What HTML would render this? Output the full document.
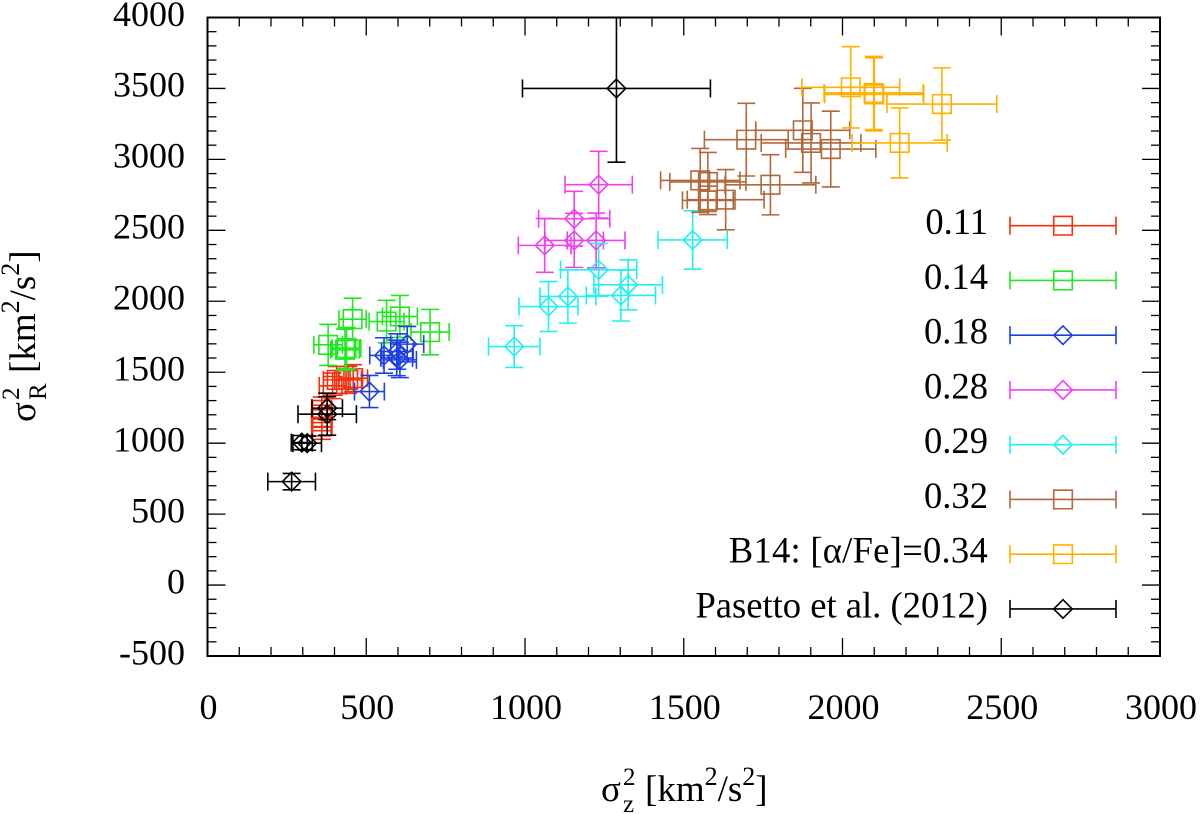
<!DOCTYPE html>
<html lang="en">
<head>
<meta charset="utf-8">
<title>Velocity dispersion chart</title>
<style>
html,body{margin:0;padding:0;background:#fff;}
svg{display:block;}
text{font-family:"Liberation Serif",serif;fill:#000;}
</style>
</head>
<body>
<svg id="chart" xmlns="http://www.w3.org/2000/svg" width="1200" height="814" viewBox="0 0 1200 814">
  <defs><clipPath id="plot-clip"><rect x="207.5" y="17.5" width="952.5" height="638.5"></rect></clipPath></defs>
  <rect x="0" y="0" width="1200" height="814" fill="#fff"></rect>
  <g id="series-layer" clip-path="url(#plot-clip)"></g>
  <g id="axis-layer"></g>
  <g id="legend-layer"></g>
  <g>
    <text x="601" y="801" font-size="37">σ</text>
    <text x="623" y="785" font-size="25">2</text>
    <text x="623" y="812" font-size="25">z</text>
    <text x="645" y="801" font-size="37">[km<tspan dy="-16" font-size="26">2</tspan><tspan dy="16">/s</tspan><tspan dy="-16" font-size="26">2</tspan><tspan dy="16">]</tspan></text>
  </g>
  <g transform="translate(35,422) rotate(-90)">
    <text x="0" y="0" font-size="37">σ</text>
    <text x="22" y="-16" font-size="25">2</text>
    <text x="22" y="11" font-size="25">R</text>
    <text x="49" y="0" font-size="37">[km<tspan dy="-16" font-size="26">2</tspan><tspan dy="16">/s</tspan><tspan dy="-16" font-size="26">2</tspan><tspan dy="16">]</tspan></text>
  </g>
</svg>
<script>
const xTickLabels = [0, 500, 1000, 1500, 2000, 2500, 3000];
const yTickLabels = [-500, 0, 500, 1000, 1500, 2000, 2500, 3000, 3500, 4000];

const x011 = [394, 407, 443, 459, 360, 360, 360];
const y011 = [1404, 1446, 1446, 1458, 1235, 1178, 1117];
const ex011 = [42, 42, 42, 45, 32, 32, 32];
const ey011 = [90, 95, 95, 95, 90, 90, 90];

const x014 = [457, 564, 606, 701, 380, 438, 433];
const y014 = [1874, 1857, 1893, 1783, 1693, 1670, 1658];
const ex014 = [43, 55, 55, 60, 45, 45, 45];
const ey014 = [148, 150, 148, 160, 145, 145, 145];

const x018 = [510, 556, 598, 606, 629, 596];
const y018 = [1364, 1618, 1646, 1587, 1698, 1601];
const ex018 = [47, 45, 50, 52, 52, 50];
const ey018 = [113, 125, 125, 125, 125, 125];

const x028 = [1232, 1155, 1155, 1224, 1062];
const y028 = [2822, 2582, 2429, 2429, 2394];
const ex028 = [106, 112, 92, 91, 83];
const ey028 = [235, 193, 190, 193, 190];

const x029 = [966, 1074, 1135, 1232, 1302, 1325, 1528];
const y029 = [1681, 1963, 2034, 2222, 2041, 2116, 2432];
const ex029 = [81, 93, 88, 120, 109, 108, 109];
const ey029 = [147, 176, 188, 186, 180, 176, 206];

const x032 = [1697, 1875, 1901, 1963, 1773, 1552, 1576, 1632, 1576];
const y032 = [3139, 3205, 3116, 3073, 2821, 2852, 2841, 2716, 2711];
const ex032 = [132, 148, 157, 142, 143, 125, 120, 121, 80];
const ey032 = [256, 296, 282, 267, 212, 225, 208, 212, 100];

const x034 = [2026, 2098, 2100, 2313, 2180];
const y034 = [3508, 3468, 3458, 3390, 3116];
const ex034 = [154, 156, 156, 173, 150];
const ey034 = [286, 258, 258, 255, 247];

const xPasetto = [265, 297, 314, 377, 377, 1288];
const yPasetto = [729, 1004, 1000, 1204, 1247, 3500];
const exPasetto = [75, 33, 45, 92, 48, 296];
const eyPasetto = [58, 50, 50, 148, 81, 520];

const seriesLabels = ["0.11", "0.14", "0.18", "0.28", "0.29", "0.32", "B14: [α/Fe]=0.34", "Pasetto et al. (2012)"];
const seriesColors = ["#f0300f", "#1fe81f", "#1f40e0", "#f040f0", "#20f0f0", "#b0683c", "#ffb000", "#000000"];
const seriesMarkers = ["square", "square", "diamond", "diamond", "diamond", "square", "square", "diamond"];
const seriesX = [x011, x014, x018, x028, x029, x032, x034, xPasetto];
const seriesY = [y011, y014, y018, y028, y029, y032, y034, yPasetto];
const seriesEx = [ex011, ex014, ex018, ex028, ex029, ex032, ex034, exPasetto];
const seriesEy = [ey011, ey014, ey018, ey028, ey029, ey032, ey034, eyPasetto];

const SVGNS = "http://www.w3.org/2000/svg";
const plot = {left: 207.5, right: 1160, top: 17.5, bottom: 656};
const xMin = 0, xMax = 3000, yMin = -500, yMax = 4000;
const capHalf = 9, markerHalf = 9.3, barWidth = 1.6;

function sx(v) { return plot.left + (v - xMin) / (xMax - xMin) * (plot.right - plot.left); }
function sy(v) { return plot.bottom - (v - yMin) / (yMax - yMin) * (plot.bottom - plot.top); }

function addLine(parent, x1, y1, x2, y2, color, width, name) {
  const el = document.createElementNS(SVGNS, "line");
  el.setAttribute("x1", x1);
  el.setAttribute("y1", y1);
  el.setAttribute("x2", x2);
  el.setAttribute("y2", y2);
  el.setAttribute("stroke", color);
  el.setAttribute("stroke-width", width);
  
  
  parent.appendChild(el);
  return el;
}

function addText(parent, x, y, str, anchor, size, name) {
  const el = document.createElementNS(SVGNS, "text");
  el.setAttribute("x", x);
  el.setAttribute("y", y);
  el.setAttribute("font-size", size);
  el.setAttribute("text-anchor", anchor);
  el.textContent = str;
  
  
  parent.appendChild(el);
  return el;
}

function addMarker(parent, cx, cy, kind, color) {
  const el = document.createElementNS(SVGNS, "path");
  const h = markerHalf;
  if (kind === "square") {
    el.setAttribute("d", "M" + (cx - h) + " " + (cy - h) + "H" + (cx + h) + "V" + (cy + h) + "H" + (cx - h) + "Z");
  } else {
    el.setAttribute("d", "M" + cx + " " + (cy - h) + "L" + (cx + h) + " " + cy + "L" + cx + " " + (cy + h) + "L" + (cx - h) + " " + cy + "Z");
  }
  el.setAttribute("fill", "none");
  el.setAttribute("stroke", color);
  el.setAttribute("stroke-width", barWidth);
  
  
  parent.appendChild(el);
}

function drawSeries(i) {
  const layer = document.getElementById("series-layer");
  const group = document.createElementNS(SVGNS, "g");
  
  
  layer.appendChild(group);
  const c = seriesColors[i];
  for (let k = 0; k < seriesX[i].length; k++) {
    const vx = seriesX[i][k], vy = seriesY[i][k], ex = seriesEx[i][k], ey = seriesEy[i][k];
    const cx = sx(vx), cy = sy(vy);
    const x0 = sx(vx - ex), x1 = sx(vx + ex), y0 = sy(vy - ey), y1 = sy(vy + ey);
    addLine(group, x0, cy, x1, cy, c, barWidth, 'x-error-bar');
    addLine(group, x0, cy - capHalf, x0, cy + capHalf, c, barWidth, 'x-error-cap');
    addLine(group, x1, cy - capHalf, x1, cy + capHalf, c, barWidth, 'x-error-cap');
    addLine(group, cx, y0, cx, y1, c, barWidth, 'y-error-bar');
    addLine(group, cx - capHalf, y0, cx + capHalf, y0, c, barWidth, 'y-error-cap');
    addLine(group, cx - capHalf, y1, cx + capHalf, y1, c, barWidth, 'y-error-cap');
    addMarker(group, cx, cy, seriesMarkers[i], c);
  }
}

function drawAxes() {
  const g = document.getElementById("axis-layer");
  const tickW = 1.3, major = 18, minor = 9, step = 100;
  for (let v = xMin; v <= xMax; v += step) {
    const len = v % 500 === 0 ? major : minor;
    const x = sx(v);
    addLine(g, x, plot.bottom, x, plot.bottom - len, "#000", tickW, 'x-tick');
    addLine(g, x, plot.top, x, plot.top + len, "#000", tickW, 'x-tick-top');
  }
  for (let v = yMin; v <= yMax; v += step) {
    const len = v % 500 === 0 ? major : minor;
    const y = sy(v);
    addLine(g, plot.left, y, plot.left + len, y, "#000", tickW, 'y-tick');
    addLine(g, plot.right, y, plot.right - len, y, "#000", tickW, 'y-tick-right');
  }
  const frame = document.createElementNS(SVGNS, "rect");
  frame.setAttribute("x", plot.left);
  frame.setAttribute("y", plot.top);
  frame.setAttribute("width", plot.right - plot.left);
  frame.setAttribute("height", plot.bottom - plot.top);
  frame.setAttribute("fill", "none");
  frame.setAttribute("stroke", "#000");
  frame.setAttribute("stroke-width", "2");
  
  
  g.appendChild(frame);
  xTickLabels.forEach(function (v) {
    addText(g, sx(v) + 1, 719, String(v), "middle", "36", 'x-tick-label');
  });
  yTickLabels.forEach(function (v) {
    addText(g, 185, sy(v) + 8.3, String(v), "end", "36", 'y-tick-label');
  });
}

function drawLegend() {
  const g = document.getElementById("legend-layer");
  const x0 = 1010, x1 = 1116, mid = 1063;
  seriesLabels.forEach(function (label, i) {
    const y = 225.7 + i * 54.75;
    const c = seriesColors[i];
    const entry = document.createElementNS(SVGNS, "g");
    
    
    g.appendChild(entry);
    const t = addText(entry, 988, y + 8.3, label, "end", "36.6", 'legend-label');
    if (label.indexOf("α") >= 0) {
      t.setAttribute("letter-spacing", "0.25");
    }
    addLine(entry, x0, y, x1, y, c, barWidth, 'legend-line');
    addLine(entry, x0, y - capHalf, x0, y + capHalf, c, barWidth, 'legend-cap');
    addLine(entry, x1, y - capHalf, x1, y + capHalf, c, barWidth, 'legend-cap');
    addMarker(entry, mid, y, seriesMarkers[i], c);
  });
}

for (let i = 0; i < seriesLabels.length; i++) {
  drawSeries(i);
}
drawAxes();
drawLegend();
</script>
</body>
</html>
